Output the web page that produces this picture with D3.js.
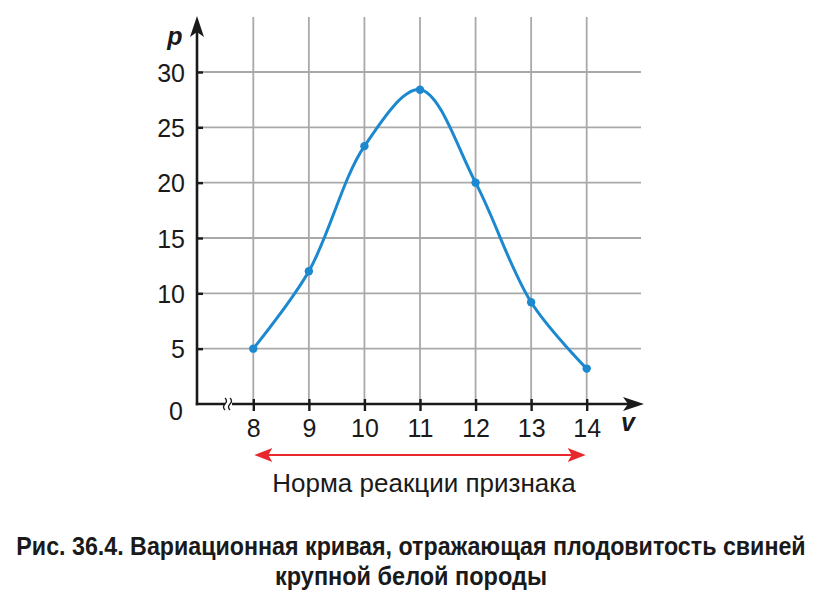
<!DOCTYPE html>
<html>
<head>
<meta charset="utf-8">
<title>Вариационная кривая</title>
<script src="https://d3js.org/d3.v7.min.js"></script>
<style>
  body { margin: 0; background: #fff; }
  svg { display: block; }
</style>
</head>
<body>
<div id="chart"></div>
<script>
    // values
    var categories = [8, 9, 10, 11, 12, 13, 14];      // v
    var values = [5, 12, 23.3, 28.4, 20, 9.2, 3.2];     // p
    var yTicks = [0, 5, 10, 15, 20, 25, 30];
    var xLabel = "v";
    var yLabel = "p";
    var rangeLabel = "Норма реакции признака";
    var captionLines = [
        "Рис. 36.4. Вариационная кривая, отражающая плодовитость свиней",
        "крупной белой породы"
    ];
    var captionWidths = [790, 272];

    var width = 822, height = 608;
    var originX = 197, originY = 404;
    var gridRight = 641, gridTop = 17;

    var svg = d3.select("#chart").append("svg")
        .attr("width", width)
        .attr("height", height);

    var x = d3.scaleLinear().domain([8, 14]).range([253.3, 586.7]);
    var y = d3.scaleLinear().domain([0, 30]).range([originY, 72]);

    var font = "'Liberation Sans', Arial, sans-serif";
    var gridColor = "#a9a9a9";
    var ink = "#1a1a1a";

    // grid
    var grid = svg.append("g");
    grid.selectAll("line.h")
        .data(yTicks.filter(function (d) { return d > 0; }))
        .enter().append("line")
        .attr("x1", originX).attr("x2", gridRight)
        .attr("y1", function (d) { return y(d); })
        .attr("y2", function (d) { return y(d); })
        .attr("stroke", gridColor).attr("stroke-width", 1.8);
    grid.selectAll("line.v")
        .data(categories)
        .enter().append("line")
        .attr("x1", function (d) { return x(d); })
        .attr("x2", function (d) { return x(d); })
        .attr("y1", gridTop).attr("y2", originY)
        .attr("stroke", gridColor).attr("stroke-width", 1.8);

    // y axis
    var yAxis = svg.append("g")
        .attr("transform", "translate(" + originX + ",0)")
        .call(d3.axisLeft(y).tickValues(yTicks.filter(function (d) { return d > 0; })).tickSize(7).tickPadding(5));
    yAxis.select(".domain").remove();
    yAxis.selectAll(".tick line").attr("x2", 6).attr("stroke", ink).attr("stroke-width", 2.4);
    yAxis.selectAll(".tick text")
        .attr("font-family", font).attr("font-size", 25).attr("fill", ink)
        .attr("dy", "0.36em");

    // x axis
    var xAxis = svg.append("g")
        .attr("transform", "translate(0," + originY + ")")
        .call(d3.axisBottom(x).tickValues(categories).tickFormat(d3.format("d")).tickSize(7).tickPadding(8));
    xAxis.select(".domain").remove();
    xAxis.selectAll(".tick line").attr("y1", -5).attr("stroke", ink).attr("stroke-width", 2.4);
    xAxis.selectAll(".tick text")
        .attr("font-family", font).attr("font-size", 25).attr("fill", ink);

    // axis lines with arrows
    svg.append("line")
        .attr("x1", originX).attr("y1", originY + 1.2)
        .attr("x2", originX).attr("y2", gridTop + 14)
        .attr("stroke", ink).attr("stroke-width", 2.6);
    svg.append("path")
        .attr("d", "M" + originX + "," + (gridTop - 1) + " L" + (originX - 7) + "," + (gridTop + 20) +
            " L" + originX + "," + (gridTop + 15) + " L" + (originX + 7) + "," + (gridTop + 20) + "Z")
        .attr("fill", ink);
    svg.append("line")
        .attr("x1", originX - 1.2).attr("y1", originY)
        .attr("x2", 630).attr("y2", originY)
        .attr("stroke", ink).attr("stroke-width", 2.6);
    svg.append("path")
        .attr("d", "M644," + originY + " L623," + (originY - 7) + " L628," + originY + " L623," + (originY + 7) + "Z")
        .attr("fill", ink);

    // axis break mark
    var bx = 229;
    svg.append("rect").attr("x", bx - 4).attr("y", originY - 3).attr("width", 7).attr("height", 6).attr("fill", "#fff");
    [-2.5, 2.5].forEach(function (o) {
        svg.append("path")
            .attr("d", "M" + (bx + o - 1.5) + "," + (originY - 6) + " q3,3 0,6 q-3,3 0,6")
            .attr("fill", "none").attr("stroke", ink).attr("stroke-width", 1.3);
    });

    // origin label
    svg.append("text")
        .attr("x", 176).attr("y", 420)
        .attr("text-anchor", "middle")
        .attr("font-family", font).attr("font-size", 25).attr("fill", ink)
        .text("0");

    // axis names
    svg.append("text")
        .attr("x", 175).attr("y", 45)
        .attr("text-anchor", "middle")
        .attr("font-family", font).attr("font-size", 25)
        .attr("font-weight", "bold").attr("font-style", "italic").attr("fill", ink)
        .text(yLabel);
    svg.append("text")
        .attr("x", 628).attr("y", 431)
        .attr("text-anchor", "middle")
        .attr("font-family", font).attr("font-size", 25)
        .attr("font-weight", "bold").attr("font-style", "italic").attr("fill", ink)
        .text(xLabel);

    // curve
    var line = d3.line()
        .x(function (d, i) { return x(categories[i]); })
        .y(function (d) { return y(d); })
        .curve(d3.curveCatmullRom.alpha(0.5));
    svg.append("path")
        .datum(values)
        .attr("d", line)
        .attr("fill", "none")
        .attr("stroke", "#1b88cf")
        .attr("stroke-width", 3);
    svg.selectAll("circle.pt")
        .data(values)
        .enter().append("circle")
        .attr("cx", function (d, i) { return x(categories[i]); })
        .attr("cy", function (d) { return y(d); })
        .attr("r", 4.2)
        .attr("fill", "#1b88cf");

    // reaction-norm range arrow
    var ay = 455, ax1 = x(categories[0]), ax2 = x(categories[categories.length - 1]);
    var red = "#e8282c";
    svg.append("line")
        .attr("x1", ax1 + 12).attr("x2", ax2 - 12)
        .attr("y1", ay).attr("y2", ay)
        .attr("stroke", red).attr("stroke-width", 1.8);
    svg.append("path")
        .attr("d", "M" + (ax1 + 1) + "," + ay + " L" + (ax1 + 19) + "," + (ay - 7) + " L" + (ax1 + 15) + "," + ay +
            " L" + (ax1 + 19) + "," + (ay + 7) + "Z")
        .attr("fill", red);
    svg.append("path")
        .attr("d", "M" + (ax2 - 1) + "," + ay + " L" + (ax2 - 19) + "," + (ay - 7) + " L" + (ax2 - 15) + "," + ay +
            " L" + (ax2 - 19) + "," + (ay + 7) + "Z")
        .attr("fill", red);
    svg.append("text")
        .attr("x", (ax1 + ax2) / 2 + 4).attr("y", 492)
        .attr("text-anchor", "middle")
        .attr("font-family", font).attr("font-size", 26).attr("fill", ink)
        .text(rangeLabel);

    // caption: bold, squeezed horizontally to the reference width
    captionLines.forEach(function (txt, i) {
        var g = svg.append("g");
        var t = g.append("text")
            .attr("text-anchor", "middle")
            .attr("font-family", font)
            .attr("font-weight", "bold")
            .attr("font-size", 25)
            .attr("fill", ink)
            .text(txt);
        var natural = t.node().getComputedTextLength();
        var sx = Math.min(1, captionWidths[i] / natural);
        g.attr("transform", "translate(411," + (555 + i * 30) + ") scale(" + sx + ",1)");
    });
</script>
</body>
</html>
